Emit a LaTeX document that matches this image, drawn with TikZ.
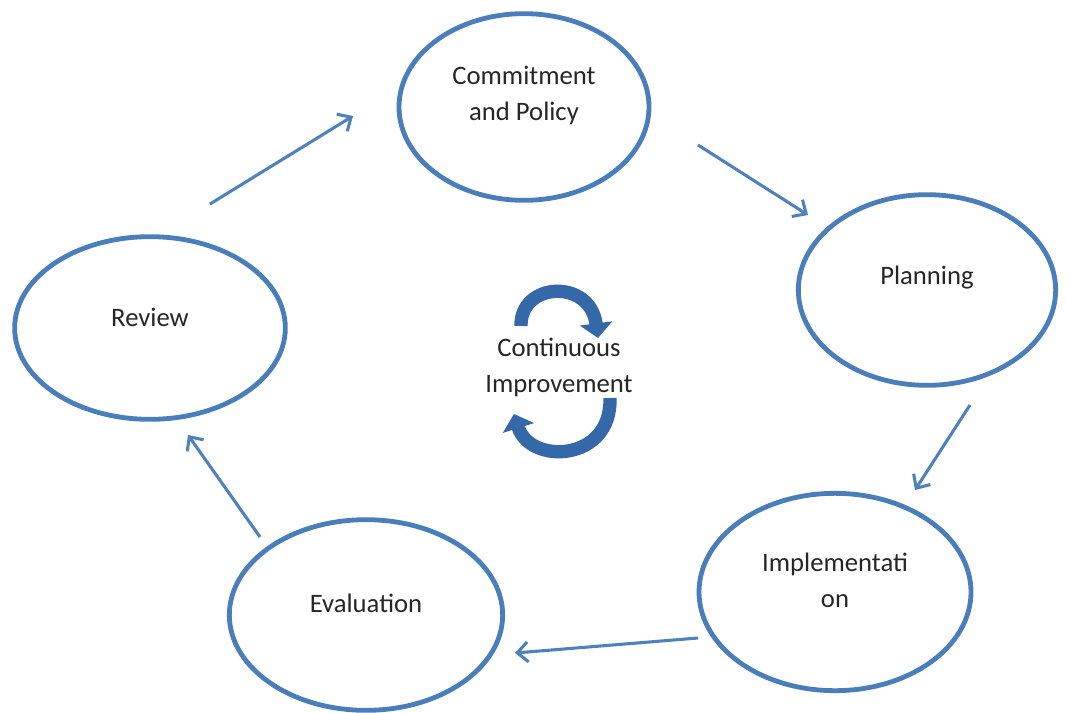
\documentclass[tikz,border=0pt]{standalone}
\usepackage{fontspec}
\setmainfont{Carlito}
\usetikzlibrary{shapes.geometric,arrows.meta}
\definecolor{ellblue}{RGB}{74,126,187}
\definecolor{arrblue}{RGB}{79,129,189}
\definecolor{cycblue}{RGB}{52,104,168}
\tikzset{
  stage/.style={ellipse, draw=ellblue, line width=3.6pt, inner sep=0pt, fill=white},
  stagetext/.style={font=\fontsize{20}{27}\selectfont, text=black!85, align=center},
  flow/.style={draw=arrblue, line width=2.3pt, -{Straight Barb[length=8pt,width=15pt]}},
  cycle/.style={draw=cycblue, line width=10pt, -{Triangle[length=11pt,width=24pt]}}
}
\begin{document}
\begin{tikzpicture}[x=0.75pt,y=-0.75pt]
\useasboundingbox (0,0) rectangle (1066,713);
\fill[white] (0,0) rectangle (1066,713);

\node[stage, minimum width=187.5pt, minimum height=140pt,
  label={[stagetext, yshift=9pt]center:Commitment\\and Policy}] (cp) at (524,107) {};
\node[stage, minimum width=193pt, minimum height=143pt,
  label={[stagetext, yshift=9pt]center:Planning}] (pl) at (927,290) {};
\node[stage, minimum width=204pt, minimum height=148pt,
  label={[stagetext, yshift=9pt]center:Implementati\\on}] (im) at (835,592) {};
\node[stage, minimum width=205pt, minimum height=143pt,
  label={[stagetext, yshift=9pt]center:Evaluation}] (ev) at (366,615) {};
\node[stage, minimum width=203pt, minimum height=137pt,
  label={[stagetext, yshift=8pt]center:Review}] (rv) at (150,328) {};

\coordinate (a1s) at (210,204); \coordinate (a1e) at (353,116);
\coordinate (a2s) at (698,145); \coordinate (a2e) at (808,215);
\coordinate (a3s) at (970,405); \coordinate (a3e) at (915,490);
\coordinate (a4s) at (698,638); \coordinate (a4e) at (515,653);
\coordinate (a5s) at (260,537); \coordinate (a5e) at (188,435);
\draw[flow] (a1s) -- (a1e);
\draw[flow] (a2s) -- (a2e);
\draw[flow] (a3s) -- (a3e);
\draw[flow] (a4s) -- (a4e);
\draw[flow] (a5s) -- (a5e);

\node[stagetext] (ci) at (559,367) {Continuous\\Improvement};

\coordinate (c1s) at (521,326); \coordinate (c1e) at (598,338);
\coordinate (c2s) at (610,398); \coordinate (c2e) at (514,414);
\draw[cycle] (c1s) .. controls (520,282) and (590,278) .. (c1e);
\draw[cycle] (c2s) .. controls (612,462) and (530,465) .. (c2e);
\end{tikzpicture}
\end{document}
